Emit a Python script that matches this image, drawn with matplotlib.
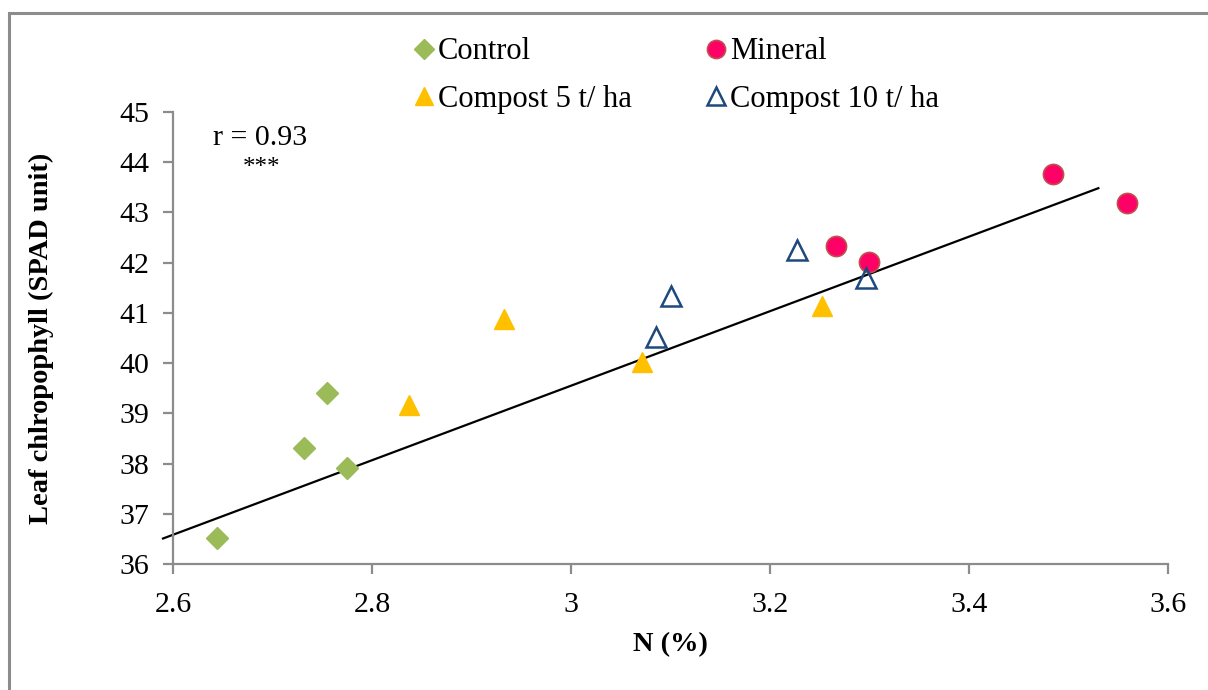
import matplotlib
matplotlib.use("Agg")
import matplotlib.pyplot as plt
from matplotlib.patches import Rectangle

plt.rcParams['font.family'] = ['Liberation Serif', 'DejaVu Serif']

# Leaf N content (%) and SPAD readings per treatment
control_n = [2.644, 2.732, 2.755, 2.775]
control_spad = [36.51, 38.30, 39.40, 37.92]

mineral_n = [3.266, 3.299, 3.484, 3.559]
mineral_spad = [42.33, 42.01, 43.77, 43.19]

compost5_n = [2.837, 2.933, 3.071, 3.252]
compost5_spad = [39.16, 40.87, 40.02, 41.13]

compost10_n = [3.085, 3.100, 3.227, 3.296]
compost10_spad = [40.52, 41.33, 42.26, 41.70]

# Linear trend line
trend_slope = 7.42
trend_intercept = 17.29
trend_range = [2.59, 3.53]

x_ticks = [2.6, 2.8, 3.0, 3.2, 3.4, 3.6]
x_tick_labels = ["2.6", "2.8", "3", "3.2", "3.4", "3.6"]
y_ticks = list(range(36, 46))

fig = plt.figure(figsize=(12.08, 6.9), dpi=100)
ax = fig.add_axes([0.1432, 0.1826, 0.8237, 0.6551])

# thin grey frame around the chart area
fig.patches.append(Rectangle((9 / 1208, -0.1), 1.2, 0.1 + (690 - 13) / 690,
                             transform=fig.transFigure, fill=False,
                             edgecolor='#8c8c8c', linewidth=2.2, zorder=0))

tx = trend_range
ty = [trend_intercept + trend_slope * v for v in tx]
ax.plot(tx, ty, color='black', linewidth=1.6, zorder=2, clip_on=False)

h_control, = ax.plot(control_n, control_spad, linestyle='none', marker='D',
                     markersize=11.5, color='#9BBB59', markeredgecolor='#9BBB59',
                     label='Control', zorder=3)
h_mineral, = ax.plot(mineral_n, mineral_spad, linestyle='none', marker='o',
                     markersize=14.5, markerfacecolor='#FF0066',
                     markeredgecolor='#C0504D', markeredgewidth=1.2,
                     label='Mineral', zorder=3)
h_c5, = ax.plot(compost5_n, compost5_spad, linestyle='none', marker='^',
                markersize=15, color='#FFC000', markeredgecolor='#FFC000',
                label='Compost 5 t/ ha', zorder=3)
h_c10, = ax.plot(compost10_n, compost10_spad, linestyle='none', marker='^',
                 markersize=14.5, markerfacecolor='none',
                 markeredgecolor='#1F497D', markeredgewidth=1.8,
                 label='Compost 10 t/ ha', zorder=3)

ax.set_xlim(2.6, 3.6)
ax.set_ylim(36, 45)
ax.set_xticks(x_ticks)
ax.set_xticklabels(x_tick_labels)
ax.set_yticks(y_ticks)

for side in ('top', 'right'):
    ax.spines[side].set_visible(False)
for side in ('left', 'bottom'):
    ax.spines[side].set_color('#8c8c8c')
    ax.spines[side].set_linewidth(1.6)

ax.tick_params(axis='both', direction='out', length=7, width=1.6,
               color='#8c8c8c', labelsize=21.5, labelcolor='black')
ax.tick_params(axis='x', pad=13)
ax.tick_params(axis='y', pad=10)

ax.set_xlabel('N (%)', fontsize=20.5, fontweight='bold', labelpad=10)
ax.set_ylabel('Leaf chlropophyll (SPAD unit)', fontsize=20.5,
              fontweight='bold', labelpad=47)

ax.text(260 / 1208, 1 - 138 / 690, 'r = 0.93', transform=fig.transFigure,
        ha='center', va='center', fontsize=21.5)
ax.text(262 / 1208, 1 - 168 / 690, '***', transform=fig.transFigure,
        ha='center', va='center', fontsize=18)

leg = fig.legend(handles=[h_control, h_c5, h_mineral, h_c10], ncol=2,
                 loc='upper left', bbox_to_anchor=(400 / 1208, 1 - 25 / 690),
                 frameon=False, fontsize=22, handlelength=0.75,
                 handletextpad=0.08, columnspacing=2.4, labelspacing=0.6,
                 markerscale=0.9, borderaxespad=0)

fig.savefig('out.png', dpi=100, facecolor='white')
